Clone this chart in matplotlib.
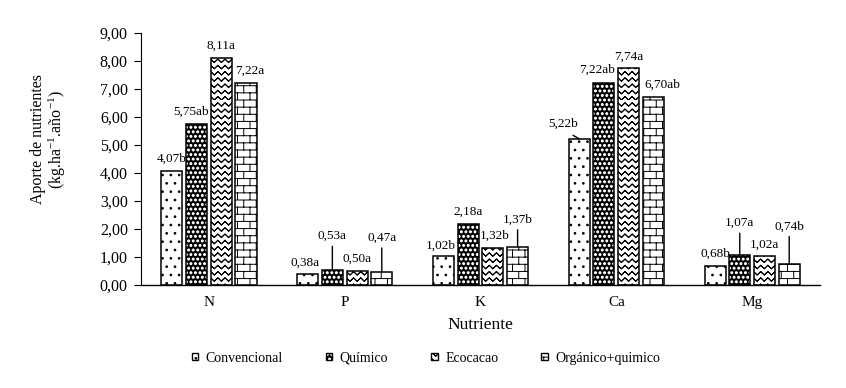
import warnings
import numpy as np
import matplotlib
matplotlib.use("Agg")
import matplotlib.pyplot as plt
import matplotlib.hatch as mhatch
from matplotlib.path import Path
from matplotlib.patches import Patch

warnings.filterwarnings("ignore")

nutrientes = ["N", "P", "K", "Ca", "Mg"]
tratamientos = ["Convencional", "Químico", "Ecocacao", "Orgánico+quimico"]

convencional = [4.07, 0.38, 1.02, 5.22, 0.68]
quimico = [5.75, 0.53, 2.18, 7.22, 1.07]
ecocacao = [8.11, 0.50, 1.32, 7.74, 1.02]
organico = [7.22, 0.47, 1.37, 6.70, 0.74]

letras_conv = ["b", "a", "b", "b", "b"]
letras_quim = ["ab", "a", "a", "ab", "a"]
letras_eco = ["a", "a", "b", "a", "a"]
letras_org = ["a", "a", "b", "ab", "b"]

series = [convencional, quimico, ecocacao, organico]
letras = [letras_conv, letras_quim, letras_eco, letras_org]


# tramas propias: zigzag, ladrillo, puntos densos
class ZigzagHatch(mhatch.HatchPatternBase):
    def __init__(self, hatch, density):
        self.rows = hatch.count('z') * 16
        self.waves = 14
        self.num_vertices = self.rows * (4 * self.waves + 1) if self.rows else 0

    def set_vertices_and_codes(self, vertices, codes):
        n = 2 * self.waves + 1
        xs = np.linspace(0, 1, n)
        amp = 0.55 / self.rows
        k = 0
        for r in range(self.rows):
            y0 = r / self.rows
            ys = y0 + amp * (np.arange(n) % 2)
            # ida y vuelta para que el relleno no tape nada
            fx = np.concatenate([xs, xs[-2::-1]])
            fy = np.concatenate([ys, ys[-2::-1]])
            m = len(fx)
            vertices[k:k + m, 0] = fx
            vertices[k:k + m, 1] = fy
            codes[k] = Path.MOVETO
            codes[k + 1:k + m] = Path.LINETO
            k += m


class BrickHatch(mhatch.HatchPatternBase):
    def __init__(self, hatch, density):
        self.rows = hatch.count('b') * 14
        self.cols = 8
        self.num_vertices = ((self.rows + 1) * 2 + self.rows * self.cols * 2) if self.rows else 0

    def set_vertices_and_codes(self, vertices, codes):
        k = 0
        for r in range(self.rows + 1):
            y = r / self.rows
            vertices[k] = (0, y)
            vertices[k + 1] = (1, y)
            codes[k] = Path.MOVETO
            codes[k + 1] = Path.LINETO
            k += 2
        for r in range(self.rows):
            y0 = r / self.rows
            y1 = (r + 1) / self.rows
            for c in range(self.cols):
                x = (c + 0.5 * (r % 2)) / self.cols
                vertices[k] = (x, y0)
                vertices[k + 1] = (x, y1)
                codes[k] = Path.MOVETO
                codes[k + 1] = Path.LINETO
                k += 2


class DenseDots(mhatch.Circles):
    size = 0.22
    filled = True

    def __init__(self, hatch, density):
        self.num_rows = hatch.count('d') * 22
        super().__init__(hatch, density)


mhatch._hatch_types.extend([ZigzagHatch, BrickHatch, DenseDots])

plt.rcParams['font.family'] = ['Liberation Serif', 'DejaVu Serif']
plt.rcParams['mathtext.fontset'] = 'custom'
plt.rcParams['mathtext.rm'] = 'Liberation Serif'
plt.rcParams['mathtext.it'] = 'Liberation Serif:italic'
plt.rcParams['hatch.linewidth'] = 0.7

# estilo por tratamiento: (relleno, color de trama, trama)
estilos = [
    ("white", "black", ".."),
    ("black", "white", "d"),
    ("white", "black", "z"),
    ("white", "black", "b"),
]

fig = plt.figure(figsize=(8.46, 3.88), dpi=100)
ax = fig.add_axes([0.1667, 0.2655, 0.8026, 0.6495])

x = np.arange(len(nutrientes))
ancho = 0.155
paso = 0.182
lw_bar = 1.1

# ajustes de etiquetas en pixeles, clave (serie, nutriente): (dx, dy, linea)
ajustes = {
    (1, 0): (-6, 12, False), (3, 0): (4, 12, False),
    (1, 1): (0, 34, True), (3, 1): (0, 34, True), (0, 1): (-3, 12, False),
    (0, 2): (-3, 11, False), (2, 2): (2, 12, False), (3, 2): (0, 27, True),
    (0, 3): (-16, 15, True), (1, 3): (-7, 13, False), (3, 3): (9, 13, False),
    (1, 4): (0, 32, True), (3, 4): (0, 38, True),
}

handles = []
for i, (vals, lets, (face, hc, hatch)) in enumerate(zip(series, letras, estilos)):
    pos = x + (i - 1.5) * paso
    ax.bar(pos, vals, ancho, color=face, edgecolor=hc, hatch=hatch, linewidth=0, zorder=2)
    ax.bar(pos, vals, ancho, fill=False, edgecolor="black", linewidth=lw_bar, zorder=3)
    h1 = Patch(facecolor=face, edgecolor=hc, hatch=hatch, linewidth=0)
    h2 = Patch(fill=False, edgecolor="black", linewidth=1.0)
    handles.append((h1, h2))
    for j, (p, v, l) in enumerate(zip(pos, vals, lets)):
        dx, dy, linea = ajustes.get((i, j), (0, 12, False))
        txt = f"{v:.2f}".replace(".", ",") + l
        kw = {}
        if linea:
            kw["arrowprops"] = dict(arrowstyle="-", color="black", lw=1.0,
                                    shrinkA=1 if dx == 0 else 4, shrinkB=0,
                                    relpos=(0.5, 0.0))
        ax.annotate(txt, xy=(p, v), xytext=(dx, dy), textcoords="offset pixels",
                    ha="center", va="center", fontsize=9.5, zorder=4, **kw)

ax.set_xlim(-0.5, len(nutrientes) - 0.5)
ax.set_ylim(0, 9)
ax.set_yticks(np.arange(0, 10, 1))
ax.set_yticklabels([f"{t:.2f}".replace(".", ",") for t in np.arange(0, 10, 1)], fontsize=11.5)
ax.set_xticks(x)
ax.set_xticklabels(nutrientes, fontsize=11)
ax.tick_params(axis="x", length=0, pad=8)
ax.tick_params(axis="y", length=5, width=0.8, direction="out", pad=4.5)

for s in ["top", "right"]:
    ax.spines[s].set_visible(False)
ax.spines["left"].set_linewidth(0.8)
ax.spines["bottom"].set_linewidth(1.0)

ax.set_xlabel("Nutriente", fontsize=12.5, labelpad=6)
ax.set_ylabel("Aporte de nutrientes\n(kg.ha$^{-1}$.año$^{-1}$)", fontsize=11.5, linespacing=1.05)
ax.yaxis.set_label_coords(-0.107, 0.579)

fig.legend(handles, tratamientos, loc="center", bbox_to_anchor=(0.5035, 0.077), ncol=4,
           frameon=False, fontsize=10, handlelength=0.45, handleheight=0.45,
           handletextpad=0.55, columnspacing=3.1)

fig.savefig("out.png", dpi=100)
